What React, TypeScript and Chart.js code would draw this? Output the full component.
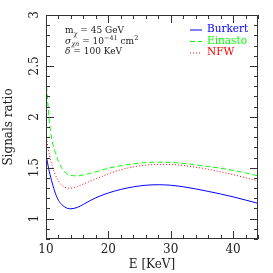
import React, { useEffect, useRef } from "react";
import { Chart, registerables } from "chart.js";

Chart.register(...registerables);

const energies = [10, 10.5, 11, 11.5, 12, 12.5, 13, 13.5, 14, 15, 16, 17, 18, 19, 20, 22, 24, 26, 28, 30, 32, 34, 36, 38, 40, 42, 44];
const burkert = [1.63, 1.47, 1.35, 1.25, 1.18, 1.14, 1.115, 1.1, 1.097, 1.11, 1.14, 1.175, 1.205, 1.23, 1.252, 1.287, 1.312, 1.328, 1.333, 1.328, 1.313, 1.292, 1.268, 1.242, 1.214, 1.183, 1.15];
const einasto = [2.38, 1.98, 1.76, 1.65, 1.56, 1.5, 1.46, 1.435, 1.425, 1.42, 1.43, 1.445, 1.46, 1.478, 1.495, 1.52, 1.538, 1.55, 1.555, 1.552, 1.543, 1.528, 1.512, 1.495, 1.474, 1.449, 1.42];
const nfw = [1.82, 1.64, 1.52, 1.43, 1.37, 1.33, 1.31, 1.3, 1.3, 1.315, 1.34, 1.365, 1.39, 1.415, 1.44, 1.48, 1.508, 1.525, 1.533, 1.532, 1.522, 1.505, 1.485, 1.46, 1.432, 1.402, 1.37];
const seriesNames = ["Burkert", "Einasto", "NFW"];
const seriesColors = ["#0000ff", "#00ff00", "#ff0000"];
const seriesDash = [[], [5, 3], [1, 2]];
const xTickLabels = [10, 20, 30, 40];
const yTickLabels = [1, 1.5, 2, 2.5, 3];
const xMin = 10, xMax = 44, yMin = 0.8, yMax = 3;

const FONT = "'DejaVu Serif', serif";

const framePlugin = {
  id: "frame",
  afterDraw(chart: any) {
    const ctx = chart.ctx as CanvasRenderingContext2D;
    const { left, right, top, bottom } = chart.chartArea;
    const xs = chart.scales.x;
    const ys = chart.scales.y;
    ctx.save();
    ctx.strokeStyle = "#333";
    ctx.lineWidth = 1;
    ctx.strokeRect(left + 0.5, top + 0.5, right - left - 1, bottom - top - 1);
    ctx.beginPath();
    for (let v = xMin; v <= xMax + 1e-6; v += 2) {
      const px = Math.round(xs.getPixelForValue(v)) + 0.5;
      const len = v % 10 === 0 ? 8 : 4;
      ctx.moveTo(px, bottom); ctx.lineTo(px, bottom - len);
      ctx.moveTo(px, top); ctx.lineTo(px, top + len);
    }
    for (let i = 8; i <= 30; i++) {
      const v = i / 10;
      const py = Math.round(ys.getPixelForValue(v)) + 0.5;
      const len = i % 5 === 0 ? 8 : 4;
      ctx.moveTo(left, py); ctx.lineTo(left + len, py);
      ctx.moveTo(right, py); ctx.lineTo(right - len, py);
    }
    ctx.stroke();

    ctx.fillStyle = "#222";
    ctx.font = "12px " + FONT;
    ctx.textAlign = "center";
    ctx.textBaseline = "middle";
    xTickLabels.forEach((v) => {
      ctx.fillText(String(v), xs.getPixelForValue(v), 250);
    });
    yTickLabels.forEach((v) => {
      ctx.save();
      ctx.translate(35, ys.getPixelForValue(v));
      ctx.rotate(-Math.PI / 2);
      ctx.fillText(String(v), 0, 0);
      ctx.restore();
    });
    ctx.fillText("E [KeV]", (left + right) / 2, 265);
    ctx.save();
    ctx.translate(9, (top + bottom) / 2);
    ctx.rotate(-Math.PI / 2);
    ctx.fillText("Signals ratio", 0, 0);
    ctx.restore();

    // annotation
    ctx.textAlign = "left";
    ctx.textBaseline = "alphabetic";
    const main = "9px " + FONT;
    const small = "6.5px " + FONT;
    const draw = (t: string, x: number, y: number, f: string) => {
      ctx.font = f; ctx.fillText(t, x, y); return x + ctx.measureText(t).width;
    };
    let x = 65;
    x = draw("m", x, 33, main);
    x = draw("χ", x, 35.5, "italic " + small);
    draw(" = 45 GeV", x, 33, main);
    x = 65;
    x = draw("σ", x, 43.5, "italic " + main);
    x = draw("χn", x, 46, "italic " + small);
    x = draw(" = 10", x, 43.5, main);
    x = draw("−41", x, 39.5, small);
    x = draw(" cm", x, 43.5, main);
    draw("2", x, 39.5, small);
    x = 65;
    x = draw("δ", x, 54, "italic " + main);
    draw(" = 100 KeV", x, 54, main);

    // legend
    const rows = [29.5, 41, 52.5];
    ctx.font = "10.5px " + FONT;
    ctx.textBaseline = "middle";
    seriesNames.forEach((name, i) => {
      ctx.strokeStyle = seriesColors[i];
      ctx.setLineDash(seriesDash[i]);
      ctx.beginPath();
      ctx.moveTo(190, rows[i] + 0.5);
      ctx.lineTo(202, rows[i] + 0.5);
      ctx.stroke();
      ctx.setLineDash([]);
      ctx.fillStyle = seriesColors[i];
      ctx.fillText(name, 207, rows[i]);
    });
    ctx.restore();
  },
};

export default function App() {
  const ref = useRef<HTMLCanvasElement>(null);
  useEffect(() => {
    if (!ref.current) return;
    const mk = (vals: number[]) => energies.map((e, i) => ({ x: e, y: vals[i] }));
    const all = [burkert, einasto, nfw];
    const chart = new Chart(ref.current, {
      type: "line",
      data: {
        datasets: all.map((vals, i) => ({
          label: seriesNames[i],
          data: mk(vals),
          borderColor: seriesColors[i],
          borderWidth: 1,
          borderDash: seriesDash[i],
          pointRadius: 0,
          cubicInterpolationMode: "monotone" as const,
          fill: false,
        })),
      },
      options: {
        responsive: false,
        animation: false,
        devicePixelRatio: 1,
        layout: { padding: { left: 46, right: 15, top: 15, bottom: 34 } },
        plugins: { legend: { display: false }, tooltip: { enabled: false } },
        scales: {
          x: { type: "linear", min: xMin, max: xMax, display: false },
          y: { type: "linear", min: yMin, max: yMax, display: false },
        },
      },
      plugins: [framePlugin],
    });
    return () => chart.destroy();
  }, []);
  return (
    <div style={{ position: "fixed", left: 0, top: 0, width: 273, height: 273, background: "#fff" }}>
      <canvas ref={ref} width={273} height={273} />
    </div>
  );
}
